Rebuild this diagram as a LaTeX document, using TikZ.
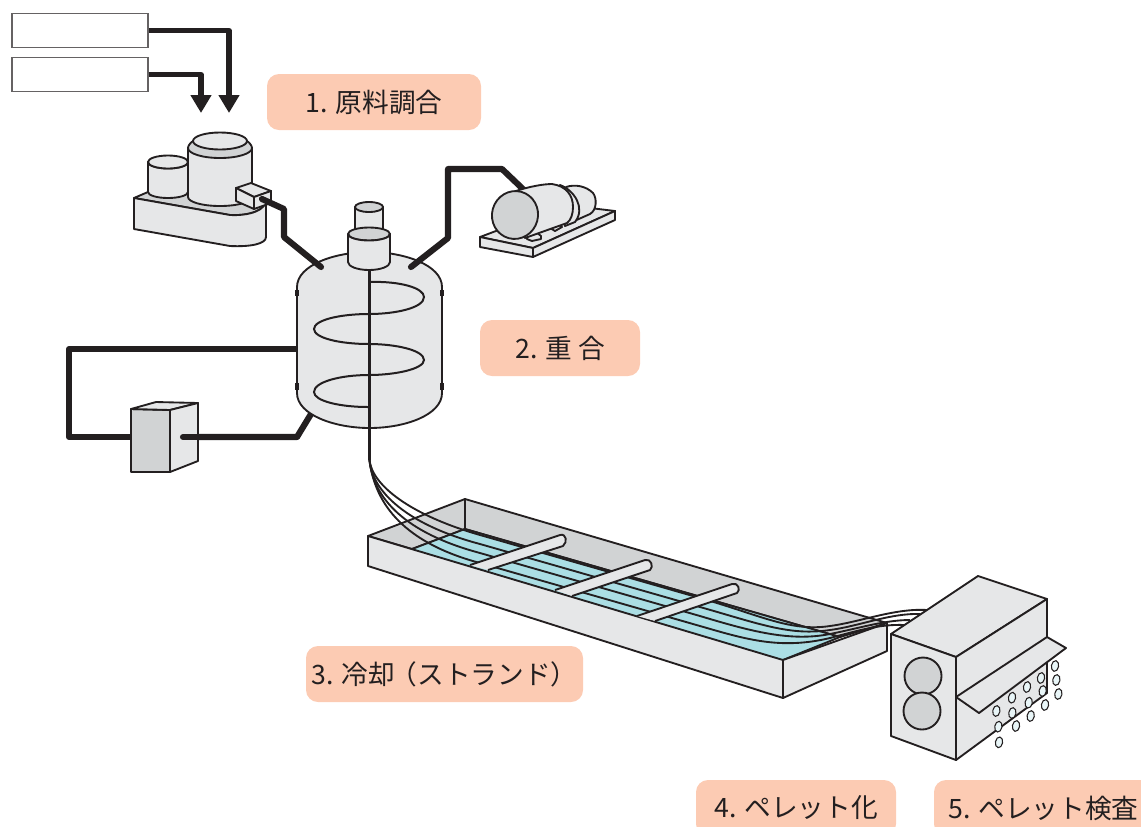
\documentclass[tikz,border=0pt]{standalone}
\usepackage{fontspec}
\setmainfont{Noto Sans CJK JP}
\usetikzlibrary{arrows.meta}
\definecolor{ink}{HTML}{231F20}
\definecolor{pale}{HTML}{E6E7E8}
\definecolor{mid}{HTML}{D1D3D4}
\definecolor{water}{HTML}{ABDEE4}
\definecolor{peach}{HTML}{FCCBB3}
\definecolor{pellet}{HTML}{E9F6F8}
\tikzset{
  lab/.style={fill=peach,rounded corners=9pt,inner sep=0pt,minimum height=42pt,text=ink,font=\fontsize{20}{24}\selectfont},
  inbox/.style={draw=ink!70,line width=0.8pt,fill=white,minimum width=102pt,minimum height=26pt,inner sep=0pt},
  part/.style={draw=ink,line width=1.4pt,line join=round,fill=pale},
  dark/.style={part,fill=mid},
  pipe/.style={draw=ink,line width=4.6pt,line join=round},
  feed/.style={draw=ink,line width=3.8pt,line join=round,-{Triangle[width=15pt,length=13.5pt]}},
  strand/.style={draw=ink,line width=1.4pt},
  pell/.style={draw=ink,line width=0.8pt,fill=pellet},
}
\begin{document}
\begin{tikzpicture}[x=0.75pt,y=-0.75pt]
\useasboundingbox (0,0) rectangle (1141,826);
\begin{scope}
\clip (0,0) rectangle (1141,826);
% labels
\node[lab,minimum width=160.5pt] (l1) at (374,102) {1. 原料調合};
\node[lab,minimum width=120pt] (l2) at (560,348) {2. 重 合};
\node[lab,minimum width=207.75pt] (l3) at (444.5,674) {3. 冷却\kern-3pt（ストランド）};
\node[lab,minimum width=150pt] (l4) at (796,808) {4. ペレット化};
\node[lab,minimum width=164.25pt] (l5) at (1043.5,808) {5. ペレット検査};
% input boxes
\node[inbox] (b1) at (80,30.5) {};
\node[inbox] (b2) at (80,74.5) {};
\coordinate (t1) at (229,113);
\coordinate (t2) at (201,113);
\draw[feed] (b1.east) -- (t1 |- b1.east) -- (t1);
\draw[feed] (b2.east) -- (t2 |- b2.east) -- (t2);
% mixer
\path[dark] (134,198) -- (148,192) -- (255,192) .. controls (262,194) and (266,197) .. (266,200) .. controls (266,210) and (250,216) .. (230,215) -- cycle;
\path[part] (134,198) -- (230,215) .. controls (250,216) and (266,210) .. (266,200) -- (266,237) .. controls (266,244) and (250,247) .. (230,246) -- (134,229) -- cycle;
\path[part] (148,162) -- (148,192) arc[start angle=180,end angle=0,x radius=20,y radius=6] -- (188,162) arc[start angle=0,end angle=180,x radius=20,y radius=6.5] -- cycle;
\path[part] (168,162) ellipse[x radius=20,y radius=6.5];
\path[part] (188,148) -- (188,197) arc[start angle=180,end angle=0,x radius=32,y radius=9] -- (252,148) -- cycle;
\path[dark] (188,148) .. controls (188,146) and (190,143) .. (193,141) -- (247,141) .. controls (250,143) and (252,146) .. (252,148) arc[start angle=0,end angle=180,x radius=32,y radius=10] -- cycle;
\path[part] (220,141) ellipse[x radius=27,y radius=8.5];
\path[part] (236,188) -- (251,183) -- (271,191) -- (254,197) -- cycle;
\path[part] (236,188) -- (254,197) -- (254,209) -- (236,201) -- cycle;
\path[part] (254,197) -- (271,191) -- (271,203) -- (254,209) -- cycle;
% circulation loop, behind vessel
\coordinate (cv1) at (298,349);
\coordinate (cv2) at (311,414);
\coordinate (c1) at (69,349);
\coordinate (c2) at (69,437);
\coordinate (c3) at (131,437);
\coordinate (c4) at (183,437);
\coordinate (c5) at (297,437);
\draw[pipe,line cap=butt] (cv1) -- (c1) -- (c2) -- (c3);
\draw[pipe] (cv2) -- (c5) -- (c4);
% cooler
\path[dark] (131,409) -- (170,410) -- (170,472) -- (131,472) -- cycle;
\path[part] (131,409) -- (156,402) -- (198,403) -- (170,410) -- cycle;
\path[part] (170,410) -- (198,403) -- (198,461) -- (170,472) -- cycle;
\draw[pipe,line cap=round] (c4) -- (c5);
% vessel
\path[part] (297,287) .. controls (297,265) and (335,252) .. (369.5,252) .. controls (404,252) and (442,265) .. (442,287) -- (442,393) .. controls (442,415) and (405,428) .. (369.5,428) .. controls (335,428) and (297,415) .. (297,393) -- cycle;
\foreach \vx in {297,442} {
  \draw[ink,line width=2.6pt] (\vx,290) -- (\vx,296);
  \draw[ink,line width=2.6pt] (\vx,383) -- (\vx,390);
}
\draw[ink,line width=1.8pt] (369.5,268) -- (369.5,460);
\draw[ink,line width=1.5pt] (370,282) .. controls (400,281) and (424,288) .. (424,297) .. controls (424,308) and (395,314) .. (369,314) .. controls (340,314) and (314,320) .. (314,329) .. controls (314,338) and (340,344) .. (369,344) .. controls (395,344) and (424,350) .. (424,360) .. controls (424,369) and (395,375) .. (369,375) .. controls (340,375) and (314,382) .. (314,392) .. controls (314,401) and (340,407) .. (368,407);
\path[part] (355,207) -- (355,230) arc[start angle=180,end angle=0,x radius=14,y radius=5] -- (383,207) -- cycle;
\path[dark] (369,207) ellipse[x radius=14,y radius=5];
\path[dark] (348,234) arc[start angle=180,end angle=-180,x radius=21,y radius=6.5];
\path[part] (348,234) -- (348,262) arc[start angle=180,end angle=0,x radius=21,y radius=8] -- (390,234) arc[start angle=0,end angle=180,x radius=21,y radius=6.5] -- cycle;
% pipes to vessel
\coordinate (m1) at (262,199);
\coordinate (m2) at (284,209);
\coordinate (m3) at (284,237);
\coordinate (m4) at (321,267);
\draw[pipe,line cap=round] (m1) -- (m2) -- (m3) -- (m4);
\coordinate (v1) at (411,267);
\coordinate (v2) at (448,238);
\coordinate (v3) at (448,169);
\coordinate (v4) at (502,169);
\coordinate (v5) at (525,191);
\draw[pipe,line cap=round] (v1) -- (v2) -- (v3) -- (v4) -- (v5);
% motor
\path[part] (480,237) -- (565,205) -- (615,211) -- (533,248) -- cycle;
\path[part] (480,237) -- (533,248) -- (533,257) -- (480,247) -- cycle;
\path[part] (533,248) -- (615,211) -- (615,220) -- (533,257) -- cycle;
\path[part] (527,236) -- (536,232) -- (541,236) -- (541,239) -- (532,241) -- (527,239) -- cycle;
\path[part] (550,228) -- (558,224) -- (562,227) -- (555,231) -- cycle;
\path[part] (566,187) .. controls (575,184) and (586,186) .. (593,193) .. controls (597,198) and (597,210) .. (590,214) -- (572,222) -- cycle;
\path[part] (560,185) .. controls (574,190) and (586,208) .. (575,222) -- (565,226) -- cycle;
\path[part] (513,192) .. controls (530,186) and (545,184) .. (552,184) .. controls (566,186) and (573,195) .. (573,207) .. controls (573,214) and (571,220) .. (567,223) -- (525,238) -- cycle;
\path[dark,rotate around={-15:(515,215)}] (515,215) ellipse[x radius=23,y radius=24];
% tank
\path[dark] (465,499) -- (887,623) -- (840,637) -- (465,529) -- cycle;
\path[dark] (368,536) -- (465,499) -- (465,529) -- (412,549) -- cycle;
\path[fill=water] (412,549) -- (465,529) -- (840,637) -- (783,660) -- cycle;
\draw[ink,line width=1.4pt] (412,549) -- (465,529) -- (840,637) -- (783,660);
\path[part] (368,536) -- (783,660) -- (783,698) -- (368,566) -- cycle;
\path[part] (783,660) -- (887,623) -- (887,651) -- (783,698) -- cycle;
% strands
\coordinate (o) at (369.5,460);
\draw[strand] (o) .. controls (372,485) and (410,515) .. (480,535) -- (700,598) .. controls (760,615) and (790,632) .. (830,626) .. controls (860,622) and (895,608) .. (927,610);
\draw[strand] (o) .. controls (372,492) and (408,525) .. (480,544) -- (700,607) .. controls (760,624) and (790,636) .. (830,630) .. controls (860,626) and (890,613) .. (920,614);
\draw[strand] (o) .. controls (373,498) and (405,533) .. (480,553) -- (700,616) .. controls (750,631) and (790,642) .. (830,634) .. controls (860,628) and (885,620) .. (910,620);
\draw[strand] (o) .. controls (375,505) and (405,543) .. (480,563) -- (700,626) .. controls (745,639) and (780,650) .. (830,638) .. controls (860,630) and (880,624) .. (905,625);
% rods
\path[part] (470,565) -- (560,535) .. controls (566,533) and (568,542) .. (563,546) -- (488,570);
\path[part] (555,590) -- (645,560) .. controls (651,558) and (654,567) .. (650,570) -- (572,596);
\path[part] (637,616) -- (732,584) .. controls (738,582) and (741,590) .. (737,593) -- (655,621);
% cutter
\path[part] (891,634) -- (978,576) -- (1047,599) -- (956,657) -- cycle;
\path[part] (891,634) -- (956,657) -- (956,760) -- (891,736) -- cycle;
\path[part] (956,657) -- (1047,599) -- (1047,693) -- (956,760) -- cycle;
\path[dark] (923,676) circle[radius=18.5];
\path[dark] (922,711) circle[radius=18.5];
\path[part] (956,697) -- (1047,637) -- (1066,648) -- (979,713) -- cycle;
% pellets
\foreach \px/\py in {885/318,843/354,801/381,756/413,709/453,889/360,848/393,806/428,757/459,715/500,895/402,855/435,812/468,768/498,717/547} {
  \path[pell,rotate around={-10:(760+\px/3,560+\py/3)}] (760+\px/3,560+\py/3) ellipse[x radius=3.6,y radius=5.4];
}
\end{scope}
\end{tikzpicture}
\end{document}
